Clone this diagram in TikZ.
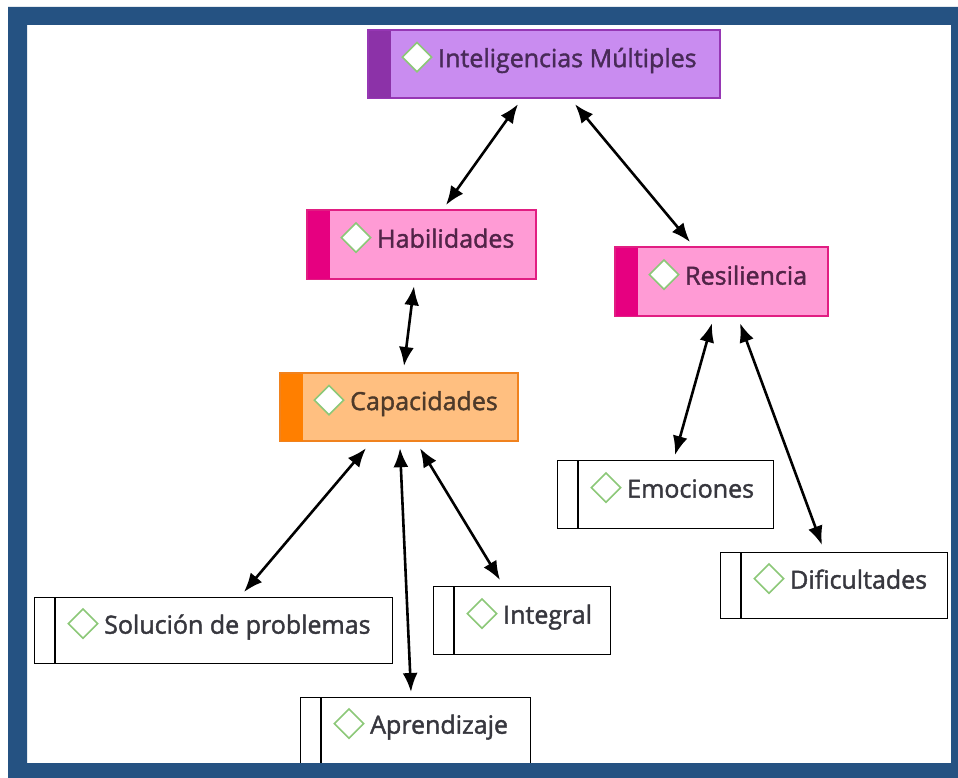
\documentclass[tikz,border=0pt]{standalone}
\usepackage{fontspec}
\setmainfont{Open Sans}
\newfontfamily\lblfont{Open Sans}[FakeBold=1.6]
\usetikzlibrary{arrows.meta,shapes.geometric}
\definecolor{frameblue}{RGB}{37,82,130}
\definecolor{purpfill}{RGB}{201,140,240}
\definecolor{purpstripe}{RGB}{140,50,168}
\definecolor{purpline}{RGB}{150,55,180}
\definecolor{purptext}{RGB}{72,42,88}
\definecolor{pinkfill}{RGB}{255,155,213}
\definecolor{pinkstripe}{RGB}{230,0,128}
\definecolor{pinkline}{RGB}{225,30,130}
\definecolor{pinktext}{RGB}{82,36,72}
\definecolor{orafill}{RGB}{255,191,128}
\definecolor{orastripe}{RGB}{255,127,0}
\definecolor{oraline}{RGB}{240,130,30}
\definecolor{oratext}{RGB}{78,58,42}
\definecolor{whtext}{RGB}{55,55,62}
\definecolor{icongreen}{RGB}{140,200,120}
\tikzset{
  icon/.style={diamond, draw=icongreen, fill=white, line width=1.6pt, minimum width=30pt, minimum height=30pt, inner sep=0pt},
  lbl/.style={font=\lblfont\fontsize{25}{28}\selectfont, inner sep=0pt},
  link/.style={line width=2.6pt, {Latex[length=19pt,width=15pt]}-{Latex[length=19pt,width=15pt]}}
}
\newcommand\colbox[7]{%
  \node[draw=#6line, fill=#6fill, line width=1.2pt, minimum width=#4pt, minimum height=#5pt, anchor=north west, inner sep=0pt] (#1) at (#2,#3) {};
  \fill[#6stripe] (#1.north west) rectangle ([xshift=23pt]#1.south west);
  \draw[#6line, line width=1.2pt] (#1.north west) rectangle (#1.south east);
  \node[icon] (#1-i) at ([xshift=49pt,yshift=7pt]#1.west) {};
  \node[lbl, text=#6text, anchor=base west] (#1-t) at ([xshift=70pt,yshift=-3pt]#1.west) {#7};
}
\newcommand\whbox[6]{%
  \node[draw=black, fill=white, line width=1.3pt, minimum width=#4pt, minimum height=#5pt, anchor=north west, inner sep=0pt] (#1) at (#2,#3) {};
  \draw[black, line width=1.3pt] ([xshift=21pt]#1.north west) -- ([xshift=21pt]#1.south west);
  \node[icon] (#1-i) at ([xshift=49pt,yshift=7pt]#1.west) {};
  \node[lbl, text=whtext, anchor=base west] (#1-t) at ([xshift=70pt,yshift=-3pt]#1.west) {#6};
}
\begin{document}
\begin{tikzpicture}[x=1pt,y=-1pt]
\useasboundingbox (0,0) rectangle (958,778);
\fill[white] (0,0) rectangle (958,778);
% boxes
\colbox{im}{368}{30}{351}{67}{purp}{Inteligencias Múltiples}
\colbox{hab}{307}{210}{228}{68}{pink}{Habilidades}
\colbox{res}{615}{247}{212}{68}{pink}{Resiliencia}
\colbox{cap}{280}{373}{237}{67}{ora}{Capacidades}
\whbox{sol}{34}{597}{358}{66}{Solución de problemas}
\whbox{apr}{300}{697}{230}{66}{Aprendizaje}
\whbox{int}{433}{586}{177}{68}{Integral}
\whbox{emo}{557}{460}{216}{68}{Emociones}
\whbox{dif}{720}{552}{227}{66}{Dificultades}
% connectors
\draw[link] ([xshift=150pt,yshift=-6pt]im.south west) -- ([xshift=139pt,yshift=5pt]hab.north west);
\draw[link] ([xshift=207pt,yshift=-6pt]im.south west) -- ([xshift=75pt,yshift=5pt]res.north west);
\draw[link] ([xshift=107pt,yshift=-7pt]hab.south west) -- ([xshift=124pt,yshift=7pt]cap.north west);
\draw[link] ([xshift=97pt,yshift=-7pt]res.south west) -- ([xshift=118pt,yshift=5pt]emo.north west);
\draw[link] ([xshift=125pt,yshift=-7pt]res.south west) -- ([xshift=102pt,yshift=7pt]dif.north west);
\draw[link] ([xshift=86pt,yshift=-7pt]cap.south west) -- ([xshift=210pt,yshift=5pt]sol.north west);
\draw[link] ([xshift=120pt,yshift=-7pt]cap.south west) -- ([xshift=111pt,yshift=5pt]apr.north west);
\draw[link] ([xshift=140pt,yshift=-7pt]cap.south west) -- ([xshift=67pt,yshift=6pt]int.north west);
% frame
\fill[frameblue, even odd rule] (8,7) rectangle (958,778) (27,25) rectangle (951,763);
\end{tikzpicture}
\end{document}
